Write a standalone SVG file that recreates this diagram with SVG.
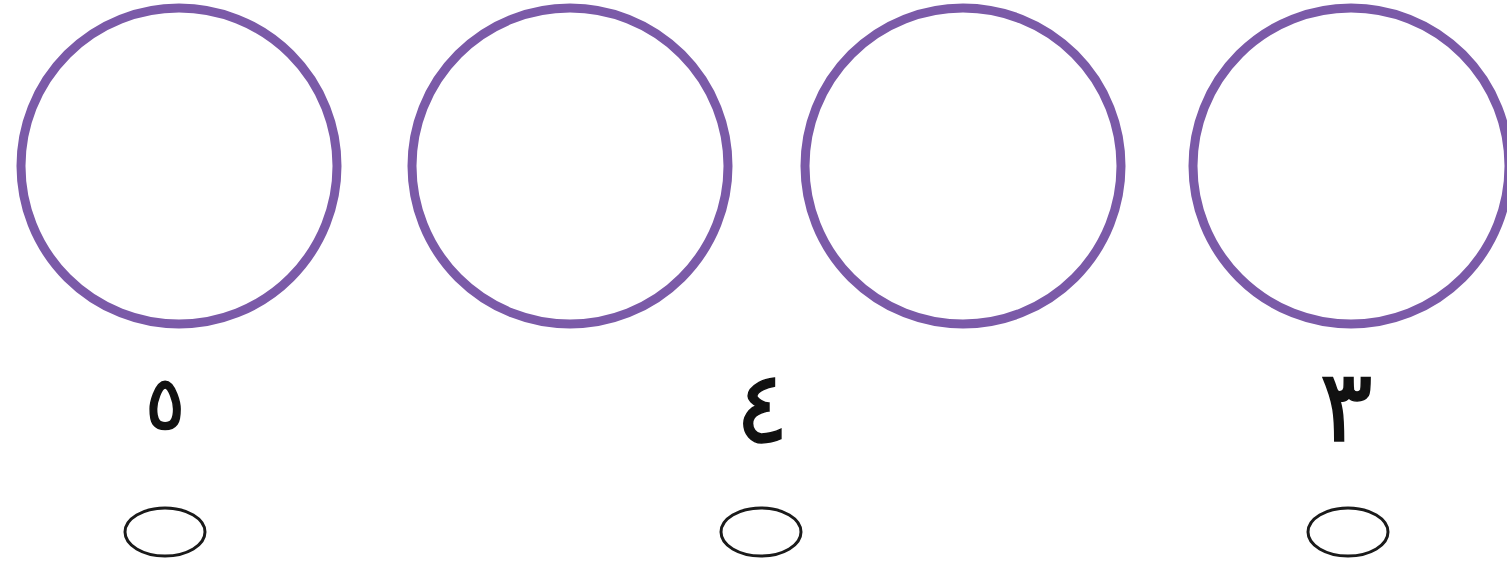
<svg xmlns="http://www.w3.org/2000/svg" width="1507" height="574" viewBox="0 0 1507 574">
<style>
.big{fill:none;stroke:#7b5aa8;stroke-width:9}
.small{fill:none;stroke:#1a1a1a;stroke-width:3}
.lbl{font-family:"DejaVu Sans",sans-serif;font-size:95px;font-weight:normal;fill:#111;text-anchor:middle;stroke:#111;stroke-width:1.5}
</style>
<rect width="1507" height="574" fill="#fff"/>
<g id="circle1"><circle class="big" cx="179" cy="166" r="158"/></g>
<g id="circle2"><circle class="big" cx="570" cy="166" r="158"/></g>
<g id="circle3"><circle class="big" cx="963" cy="166" r="158"/></g>
<g id="circle4"><circle class="big" cx="1351" cy="166" r="158"/></g>
<g id="label5"><text class="lbl" x="165" y="429" style="font-size:74px">٥</text><ellipse class="small" cx="165" cy="532" rx="40" ry="24"/></g>
<g id="label4"><text class="lbl" x="762" y="442" style="font-size:100px">٤</text><ellipse class="small" cx="761" cy="532" rx="40" ry="24"/></g>
<g id="label3"><text class="lbl" x="1346" y="441" style="font-size:100px">٣</text><ellipse class="small" cx="1348" cy="532" rx="40" ry="24"/></g>
<g id="connectors"/>
</svg>
